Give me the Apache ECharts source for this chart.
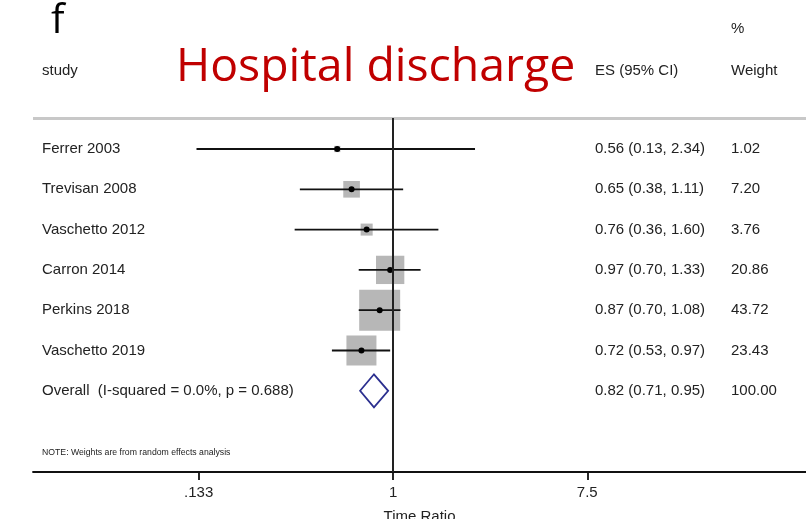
<!DOCTYPE html>
<html>
<head>
<meta charset="utf-8">
<script src="https://cdn.jsdelivr.net/npm/echarts@6/dist/echarts.min.js"></script>
<style>
  html, body { margin: 0; padding: 0; background: #fff; }
  #chart { width: 806px; height: 519px; }
</style>
</head>
<body>
<div id="chart"></div>
<script>
// Study-level estimates (time ratio with 95% CI) and random-effects weights (%)
const studies = ['Ferrer 2003', 'Trevisan 2008', 'Vaschetto 2012', 'Carron 2014', 'Perkins 2018', 'Vaschetto 2019'];
const es = [0.56, 0.65, 0.76, 0.97, 0.87, 0.72];
const ciLow = [0.13, 0.38, 0.36, 0.70, 0.70, 0.53];
const ciHigh = [2.34, 1.11, 1.60, 1.33, 1.08, 0.97];
const weights = [1.02, 7.20, 3.76, 20.86, 43.72, 23.43];

// Pooled estimate
const overallLabel = 'Overall  (I-squared = 0.0%, p = 0.688)';
const overallEs = [0.82];
const overallLow = [0.71];
const overallHigh = [0.95];
const overallWeight = [100.00];

// Axis ticks (time ratio scale, drawn on log scale)
const tickValues = [0.133, 1, 7.5];
const tickLabels = ['.133', '1', '7.5'];

const TXT = 'Liberation Sans, Arial, sans-serif';
const TXT_COLOR = '#222';
const COL_STUDY = 42, COL_ES = 595, COL_W = 731;
const fmt = v => v.toFixed(2);
const ln = Math.log;

const studyData = studies.map((s, i) => [i, ln(es[i]), ln(ciLow[i]), ln(ciHigh[i]), weights[i]]);
const overallRow = studies.length;
const overallData = [[overallRow, ln(overallEs[0]), ln(overallLow[0]), ln(overallHigh[0]), overallWeight[0]]];

function rowText(x, y, text) {
  return {
    type: 'text',
    style: { x: x, y: y, text: text, font: '15px ' + TXT, fill: TXT_COLOR, align: 'left', verticalAlign: 'middle' }
  };
}

const chart = echarts.init(document.getElementById('chart'), null, { renderer: 'canvas' });

chart.setOption({
  animation: false,
  backgroundColor: '#fff',
  grid: { left: 33, width: 773, top: 118, height: 354, containLabel: false, outerBoundsMode: 'none' },
  xAxis: {
    type: 'value',
    min: -3.737,
    max: 4.285,
    name: 'Time Ratio',
    nameLocation: 'middle',
    nameGap: 37,
    nameTextStyle: { fontFamily: TXT, fontSize: 15, color: TXT_COLOR },
    axisLine: { show: true, onZero: false, lineStyle: { color: '#111', width: 1.8 } },
    axisTick: {
      show: true, length: 8,
      customValues: tickValues.map(v => ln(v)),
      lineStyle: { color: '#111', width: 1.8 }
    },
    axisLabel: {
      customValues: tickValues.map(v => ln(v)),
      formatter: (v) => {
        const k = tickValues.findIndex(t => Math.abs(ln(t) - v) < 1e-6);
        return k >= 0 ? tickLabels[k] : '';
      },
      margin: 13,
      fontFamily: TXT, fontSize: 15, color: TXT_COLOR
    },
    splitLine: { show: false }
  },
  yAxis: {
    type: 'value',
    inverse: true,
    min: -0.769,
    max: 8.015,
    show: false
  },
  graphic: [
    { type: 'text', left: 51, top: 2, style: { text: 'f', font: '40px "Open Sans", sans-serif', fill: '#000' } },
    { type: 'text', left: 176, top: 45, style: { text: 'Hospital discharge', font: '46.4px "Open Sans", sans-serif', fill: '#c00000' } },
    { type: 'text', left: COL_STUDY, top: 63, style: { text: 'study', font: '15px ' + TXT, fill: TXT_COLOR } },
    { type: 'text', left: COL_ES, top: 63, style: { text: 'ES (95% CI)', font: '15px ' + TXT, fill: TXT_COLOR } },
    { type: 'text', left: COL_W, top: 21, style: { text: '%', font: '15px ' + TXT, fill: TXT_COLOR } },
    { type: 'text', left: COL_W, top: 63, style: { text: 'Weight', font: '15px ' + TXT, fill: TXT_COLOR } },
    { type: 'line', shape: { x1: 33, y1: 118.5, x2: 806, y2: 118.5 }, style: { stroke: '#c8c8c8', lineWidth: 3 } },
    { type: 'text', left: COL_STUDY, top: 448, style: { text: 'NOTE: Weights are from random effects analysis', font: '8.7px ' + TXT, fill: TXT_COLOR } }
  ],
  series: [
    {
      // null line at time ratio = 1
      type: 'line',
      data: [],
      z: 1,
      markLine: {
        silent: true,
        symbol: 'none',
        label: { show: false },
        lineStyle: { color: '#222', width: 2, type: 'solid' },
        data: [{ xAxis: ln(1) }]
      }
    },
    {
      type: 'custom',
      z: 3,
      data: studyData,
      renderItem: function (params, api) {
        const row = api.value(0);
        const c = api.coord([api.value(1), row]);
        const l = api.coord([api.value(2), row]);
        const h = api.coord([api.value(3), row]);
        const w = api.value(4);
        const side = 6.2 * Math.sqrt(w);
        const i = params.dataIndex;
        return {
          type: 'group',
          children: [
            { type: 'rect', shape: { x: c[0] - side / 2, y: c[1] - side / 2, width: side, height: side }, style: { fill: '#b7b7b7' } },
            { type: 'line', shape: { x1: l[0], y1: l[1], x2: h[0], y2: h[1] }, style: { stroke: '#111', lineWidth: 1.8 } },
            { type: 'circle', shape: { cx: c[0], cy: c[1], r: 3 }, style: { fill: '#000' } },
            rowText(COL_STUDY, c[1], studies[i]),
            rowText(COL_ES, c[1], fmt(es[i]) + ' (' + fmt(ciLow[i]) + ', ' + fmt(ciHigh[i]) + ')'),
            rowText(COL_W, c[1], fmt(w))
          ]
        };
      }
    },
    {
      type: 'custom',
      z: 3,
      data: overallData,
      renderItem: function (params, api) {
        const row = api.value(0);
        const c = api.coord([api.value(1), row]);
        const l = api.coord([api.value(2), row]);
        const h = api.coord([api.value(3), row]);
        const half = 16.5;
        return {
          type: 'group',
          children: [
            {
              type: 'polygon',
              shape: { points: [[l[0], c[1]], [c[0], c[1] - half], [h[0], c[1]], [c[0], c[1] + half]] },
              style: { fill: '#fff', stroke: '#2b2f8f', lineWidth: 1.8 }
            },
            rowText(COL_STUDY, c[1], overallLabel),
            rowText(COL_ES, c[1], fmt(overallEs[0]) + ' (' + fmt(overallLow[0]) + ', ' + fmt(overallHigh[0]) + ')'),
            rowText(COL_W, c[1], fmt(api.value(4)))
          ]
        };
      }
    }
  ]
});
</script>
</body>
</html>
